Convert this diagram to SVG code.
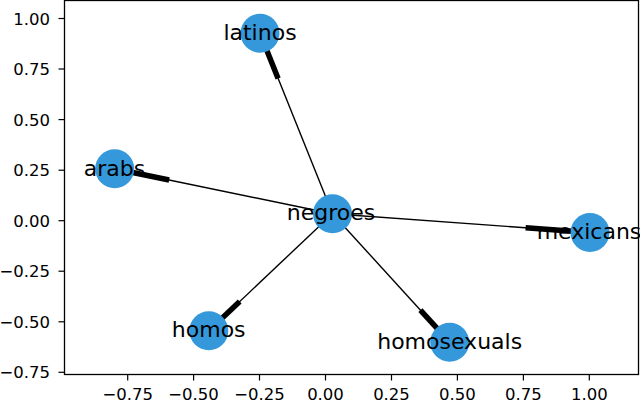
<svg xmlns="http://www.w3.org/2000/svg" width="640" height="401" viewBox="0 0 640 401">
<style>
.tick{stroke:#000;stroke-width:1.2}
.tl{font-family:"DejaVu Sans",sans-serif;font-size:16.5px;fill:#000}
.yl{text-anchor:end}
.xl{text-anchor:middle}
.edge{stroke:#000;stroke-width:1.4;fill:none}
.arrow{stroke:#000;stroke-width:5.5;fill:none;stroke-linecap:butt}
.node circle{fill:#3498db}
.node text{font-family:"DejaVu Sans",sans-serif;font-size:22px;fill:#000;text-anchor:middle}
</style>
<rect width="640" height="401" fill="#fff"/>
<g id="axes">
<rect x="64.5" y="0.5" width="574" height="374" fill="none" stroke="#000" stroke-width="1.3"/>
<g class="tick">
<line x1="58.5" y1="18.5" x2="64.5" y2="18.5"/>
<line x1="58.5" y1="69" x2="64.5" y2="69"/>
<line x1="58.5" y1="119.6" x2="64.5" y2="119.6"/>
<line x1="58.5" y1="170.2" x2="64.5" y2="170.2"/>
<line x1="58.5" y1="220.7" x2="64.5" y2="220.7"/>
<line x1="58.5" y1="271.2" x2="64.5" y2="271.2"/>
<line x1="58.5" y1="321.8" x2="64.5" y2="321.8"/>
<line x1="58.5" y1="372.3" x2="64.5" y2="372.3"/>
<line x1="127.7" y1="374.5" x2="127.7" y2="380.5"/>
<line x1="193.6" y1="374.5" x2="193.6" y2="380.5"/>
<line x1="259.5" y1="374.5" x2="259.5" y2="380.5"/>
<line x1="325.5" y1="374.5" x2="325.5" y2="380.5"/>
<line x1="391.5" y1="374.5" x2="391.5" y2="380.5"/>
<line x1="457.4" y1="374.5" x2="457.4" y2="380.5"/>
<line x1="523.4" y1="374.5" x2="523.4" y2="380.5"/>
<line x1="589.3" y1="374.5" x2="589.3" y2="380.5"/>
</g>
<g class="tl yl">
<text x="50" y="24.5">1.00</text>
<text x="50" y="75">0.75</text>
<text x="50" y="125.6">0.50</text>
<text x="50" y="176.2">0.25</text>
<text x="50" y="226.7">0.00</text>
<text x="50" y="277.2">−0.25</text>
<text x="50" y="327.8">−0.50</text>
<text x="50" y="378.3">−0.75</text>
</g>
<g class="tl xl">
<text x="127.7" y="400">−0.75</text>
<text x="193.6" y="400">−0.50</text>
<text x="259.5" y="400">−0.25</text>
<text x="325.5" y="400">0.00</text>
<text x="391.5" y="400">0.25</text>
<text x="457.4" y="400">0.50</text>
<text x="523.4" y="400">0.75</text>
<text x="589.3" y="400">1.00</text>
</g>
</g>
<g id="connectors">
<line class="edge" x1="332.5" y1="213.7" x2="260" y2="33.3"/>
<line class="edge" x1="332.5" y1="213.7" x2="114.7" y2="168.8"/>
<line class="edge" x1="332.5" y1="213.7" x2="590" y2="232.5"/>
<line class="edge" x1="332.5" y1="213.7" x2="449.7" y2="342.2"/>
<line class="edge" x1="332.5" y1="213.7" x2="208.8" y2="330.8"/>
<line class="arrow" x1="278.1" y1="78.4" x2="260" y2="33.3"/>
<line class="arrow" x1="169.15" y1="180" x2="114.7" y2="168.8"/>
<line class="arrow" x1="525.6" y1="227.8" x2="590" y2="232.5"/>
<line class="arrow" x1="420.4" y1="310.1" x2="449.7" y2="342.2"/>
<line class="arrow" x1="239.7" y1="301.5" x2="208.8" y2="330.8"/>
</g>
<g id="node-negroes" class="node"><circle cx="332.5" cy="213.7" r="19.5"/><text x="331" y="220">negroes</text></g>
<g id="node-latinos" class="node"><circle cx="260" cy="33.3" r="19.5"/><text x="260" y="40">latinos</text></g>
<g id="node-arabs" class="node"><circle cx="114.7" cy="168.8" r="19.5"/><text x="114.5" y="175.5">arabs</text></g>
<g id="node-mexicans" class="node"><circle cx="590" cy="232.5" r="19.5"/><text x="589" y="239">mexicans</text></g>
<g id="node-homosexuals" class="node"><circle cx="449.7" cy="342.2" r="19.5"/><text x="449.7" y="348.5">homosexuals</text></g>
<g id="node-homos" class="node"><circle cx="208.8" cy="330.8" r="19.5"/><text x="208.7" y="337">homos</text></g>
</svg>
